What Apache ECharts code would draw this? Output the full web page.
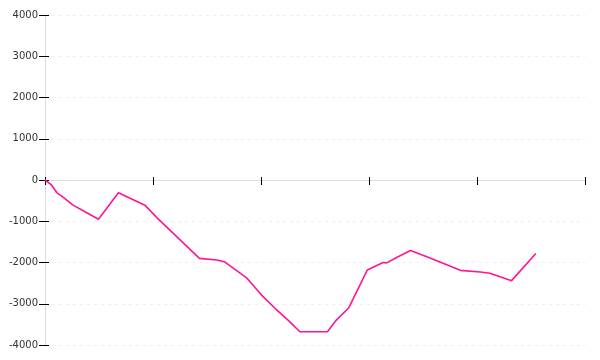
<!DOCTYPE html>
<html>
<head>
<meta charset="utf-8">
<script src="https://cdn.jsdelivr.net/npm/echarts@6/dist/echarts.min.js"></script>
<style>html,body{margin:0;padding:0;background:#fff}#c{width:600px;height:360px}</style>
</head>
<body>
<div id="c"></div>
<script>
// x positions (arbitrary units along the horizontal axis) and cumulative values
var xs = [0, 1.2, 2.2, 3.1, 5.2, 7.4, 9.9, 13.6, 18.5, 21.0, 28.6, 31.8, 33.2, 37.4, 40.1, 42.6, 45.1, 47.2, 52.3, 54.0, 56.2, 59.7, 62.6, 63.3, 65.1, 67.7, 71.3, 76.9, 80.6, 82.4, 86.4, 90.9];
var values = [0, -120, -310, -390, -610, -770, -950, -310, -610, -950, -1900, -1940, -1980, -2380, -2790, -3110, -3410, -3680, -3680, -3390, -3110, -2180, -2000, -2010, -1880, -1710, -1890, -2190, -2230, -2260, -2440, -1780];
var yTicks = [-4000, -3000, -2000, -1000, 0, 1000, 2000, 3000, 4000];

var data = xs.map(function (x, i) { return [x, values[i]]; });
var chart = echarts.init(document.getElementById('c'));
var yBase = {
  type: 'value', min: yTicks[0], max: yTicks[yTicks.length - 1], interval: 1000
};
chart.setOption({
  animation: false,
  grid: { left: 45, right: 15, top: 15, bottom: 15, containLabel: false },
  xAxis: [{
    type: 'value', min: 0, max: 100, interval: 20,
    axisLine: { show: true, onZero: true, lineStyle: { color: '#ddd', width: 1 } },
    axisTick: { show: true, length: 5, lineStyle: { color: '#000' } },
    axisLabel: { show: false },
    splitLine: { show: false }
  }, {
    type: 'value', min: 0, max: 100, interval: 20, position: 'bottom',
    axisLine: { show: false, onZero: true },
    axisTick: { show: true, inside: true, length: 3, lineStyle: { color: '#000' } },
    axisLabel: { show: false },
    splitLine: { show: false }
  }],
  yAxis: [Object.assign({}, yBase, {
    axisLine: { show: true, lineStyle: { color: '#ddd' } },
    axisTick: { show: true, length: 6, lineStyle: { color: '#000' } },
    axisLabel: {
      color: '#333', fontSize: 10, fontFamily: 'DejaVu Sans, sans-serif', margin: 7,
      formatter: function (v) { return String(v); }
    },
    splitLine: { show: true, lineStyle: { color: '#eee', type: [3, 4] } }
  }), Object.assign({}, yBase, {
    position: 'left',
    axisLine: { show: false },
    axisTick: { show: true, inside: true, length: 4, lineStyle: { color: '#000' } },
    axisLabel: { show: false },
    splitLine: { show: false }
  })],
  series: [{
    type: 'line', data: data, showSymbol: false, symbol: 'none',
    lineStyle: { color: '#ff1493', width: 1.6 },
    xAxisIndex: 0, yAxisIndex: 0
  }]
});
</script>
</body>
</html>
